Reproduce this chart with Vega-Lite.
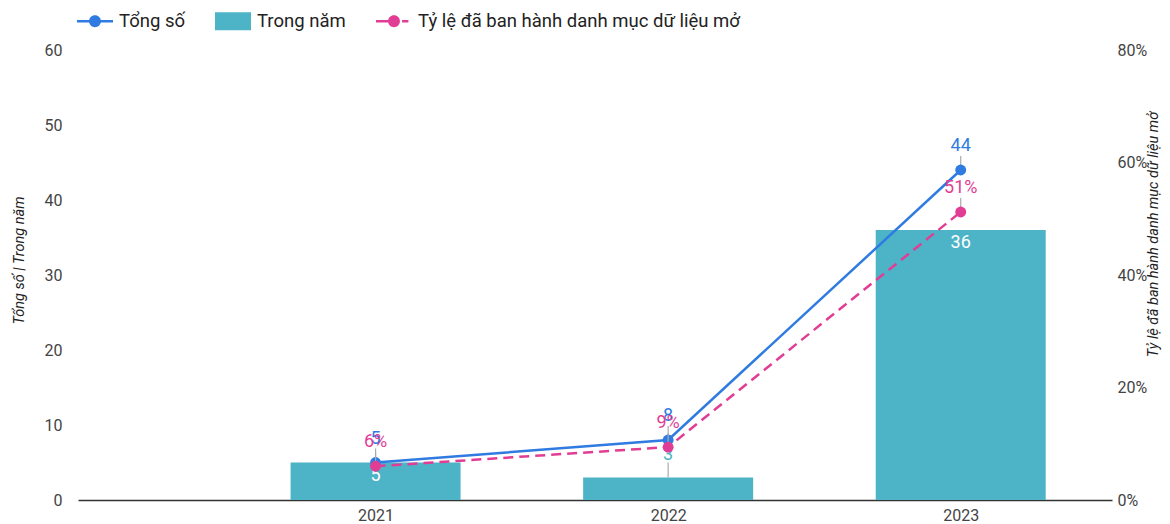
{
  "$schema": "https://vega.github.io/schema/vega-lite/v6.json",
  "width": 1034,
  "height": 450,
  "autosize": {"type": "none"},
  "padding": {"left": 78, "top": 50, "right": 58, "bottom": 24},
  "background": "white",
  "config": {"font": "Roboto", "view": {"stroke": null}, "axis": {"grid": false}},
  "datasets": {
    "main": [
      {"year": 2021, "total": 5, "inyear": 5, "pct": 0.06},
      {"year": 2022, "total": 8, "inyear": 3, "pct": 0.094},
      {"year": 2023, "total": 44, "inyear": 36, "pct": 0.512}
    ],
    "legend": [
      {"series": "Tổng số"},
      {"series": "Trong năm"},
      {"series": "Tỷ lệ đã ban hành danh mục dữ liệu mở"}
    ]
  },
  "encoding": {
    "x": {
      "field": "year",
      "type": "quantitative",
      "scale": {"domain": [2020, 2023.5], "nice": false, "zero": false},
      "axis": {
        "values": [2021, 2022, 2023],
        "format": "d",
        "title": null,
        "grid": false,
        "ticks": false,
        "tickSize": 0,
        "domainColor": "#333333",
        "domainWidth": 1.5,
        "labelFontSize": 16,
        "labelColor": "#444444",
        "labelPadding": 7
      }
    }
  },
  "layer": [
    {
      "data": {"name": "main"},
      "layer": [
        {
          "mark": {"type": "bar", "size": 170, "color": "#4db3c6", "orient": "vertical"},
          "encoding": {
            "y": {
              "field": "inyear",
              "type": "quantitative",
              "stack": null,
              "scale": {"domain": [0, 60], "nice": false},
              "axis": {
                "values": [0, 10, 20, 30, 40, 50, 60],
                "title": "Tổng số | Trong năm",
                "domain": false,
                "ticks": false,
                "tickSize": 0,
                "grid": false,
                "labelPadding": 16,
                "labelFontSize": 16,
                "labelColor": "#444444",
                "titleFontStyle": "italic",
                "titleFontWeight": "normal",
                "titleFontSize": 14.5,
                "titleColor": "#222222",
                "titleX": -59,
                "titleY": 210,
                "titleAngle": -90,
                "titleAlign": "center",
                "titleBaseline": "middle"
              }
            }
          }
        },
        {
          "transform": [{"filter": "datum.inyear < 5"}],
          "mark": {"type": "rule", "color": "#aaaaaa", "strokeWidth": 1.2, "y2Offset": -15},
          "encoding": {
            "y": {"field": "inyear", "type": "quantitative"},
            "y2": {"field": "inyear"}
          }
        },
        {
          "mark": {"type": "rule", "color": "#aaaaaa", "strokeWidth": 1.2, "y2Offset": -14},
          "encoding": {
            "y": {"field": "total", "type": "quantitative"},
            "y2": {"field": "total"}
          }
        },
        {
          "mark": {"type": "line", "color": "#2f7be1", "strokeWidth": 2.5},
          "encoding": {"y": {"field": "total", "type": "quantitative"}}
        },
        {
          "mark": {"type": "circle", "size": 120, "color": "#2f7be1", "opacity": 1},
          "encoding": {"y": {"field": "total", "type": "quantitative"}}
        },
        {
          "mark": {"type": "text", "dy": -24, "fontSize": 18, "color": "#2f7be1", "baseline": "middle"},
          "encoding": {
            "y": {"field": "total", "type": "quantitative"},
            "text": {"field": "total", "type": "quantitative"}
          }
        },
        {
          "transform": [{"filter": "datum.inyear >= 5"}],
          "mark": {"type": "text", "dy": 13, "fontSize": 18, "color": "#ffffff", "baseline": "middle"},
          "encoding": {
            "y": {"field": "inyear", "type": "quantitative"},
            "text": {"field": "inyear", "type": "quantitative"}
          }
        },
        {
          "transform": [{"filter": "datum.inyear < 5"}],
          "mark": {"type": "text", "dy": -23, "fontSize": 18, "color": "#4db3c6", "baseline": "middle"},
          "encoding": {
            "y": {"field": "inyear", "type": "quantitative"},
            "text": {"field": "inyear", "type": "quantitative"}
          }
        }
      ]
    },
    {
      "data": {"name": "main"},
      "layer": [
        {
          "mark": {"type": "rule", "color": "#aaaaaa", "strokeWidth": 1.2, "y2Offset": -14},
          "encoding": {
            "y": {
              "field": "pct",
              "type": "quantitative",
              "scale": {"domain": [0, 0.8], "nice": false},
              "axis": {
                "orient": "right",
                "values": [0, 0.2, 0.4, 0.6, 0.8],
                "format": ".0%",
                "title": "Tỷ lệ đã ban hành danh mục dữ liệu mở",
                "domain": false,
                "ticks": false,
                "tickSize": 0,
                "grid": false,
                "labelPadding": 5,
                "labelFontSize": 16,
                "labelColor": "#444444",
                "titleFontStyle": "italic",
                "titleFontWeight": "normal",
                "titleFontSize": 14.5,
                "titleColor": "#222222",
                "titleX": 41,
                "titleY": 184,
                "titleAngle": -90,
                "titleAlign": "center",
                "titleBaseline": "middle"
              }
            },
            "y2": {"field": "pct"}
          }
        },
        {
          "mark": {"type": "line", "color": "#e23d94", "strokeWidth": 2.5, "strokeDash": [10, 6]},
          "encoding": {"y": {"field": "pct", "type": "quantitative"}}
        },
        {
          "mark": {"type": "circle", "size": 120, "color": "#e23d94", "opacity": 1},
          "encoding": {"y": {"field": "pct", "type": "quantitative"}}
        },
        {
          "mark": {"type": "text", "dy": -24, "fontSize": 18, "color": "#e23d94", "baseline": "middle"},
          "encoding": {
            "y": {"field": "pct", "type": "quantitative"},
            "text": {"field": "pct", "type": "quantitative", "format": ".0%"}
          }
        }
      ]
    },
    {
      "data": {"name": "legend"},
      "mark": {"type": "point", "filled": true, "opacity": 0},
      "encoding": {
        "x": {"value": 0},
        "y": {"value": 0},
        "color": {
          "field": "series",
          "type": "nominal",
          "scale": {
            "domain": ["Tổng số", "Trong năm", "Tỷ lệ đã ban hành danh mục dữ liệu mở"],
            "range": ["#2f7be1", "#4db3c6", "#e23d94"]
          },
          "legend": {
            "title": null,
            "orient": "none",
            "legendX": -1,
            "legendY": -47,
            "direction": "horizontal",
            "columns": 3,
            "padding": 0,
            "symbolSize": 1296,
            "symbolOpacity": 1,
            "symbolStrokeWidth": 0,
            "labelFontSize": 18.5,
            "labelColor": "#222222",
            "labelLimit": 0,
            "labelOffset": 6,
            "columnPadding": 30,
            "encode": {
              "symbols": {
                "update": {
                  "shape": {"signal": "datum.value === 'Trong năm' ? 'M-1,-0.5H1V0.5H-1Z' : (datum.value === 'Tổng số' ? 'M-1,-0.07H1V0.07H-1Z M-0.33,0A0.33,0.33 0 1,1 0.33,0A0.33,0.33 0 1,1 -0.33,0Z' : 'M-1,-0.07H0.1V0.07H-1Z M-0.33,0A0.33,0.33 0 1,1 0.33,0A0.33,0.33 0 1,1 -0.33,0Z M0.45,-0.07H0.8V0.07H0.45Z')"},
                  "opacity": {"value": 1},
                  "fillOpacity": {"value": 1}
                }
              }
            }
          }
        }
      }
    }
  ],
  "resolve": {"scale": {"y": "independent"}}
}
